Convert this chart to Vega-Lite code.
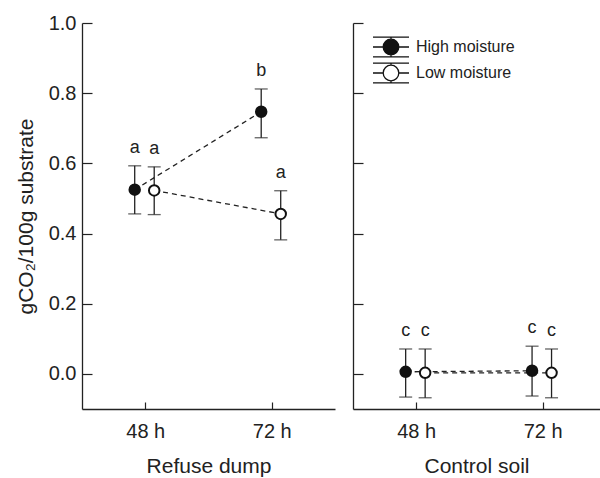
{
  "$schema": "https://vega.github.io/schema/vega-lite/v6.json",
  "padding": {"left": 15, "top": 13, "right": 0, "bottom": 5},
  "config": {
    "view": {"stroke": null},
    "font": "Liberation Sans",
    "axis": {
      "labelFont": "Liberation Sans", "titleFont": "Liberation Sans",
      "labelFontSize": 20, "titleFontSize": 21, "titleFontWeight": "normal",
      "labelColor": "#222", "titleColor": "#222",
      "domainColor": "#222", "tickColor": "#222", "domainWidth": 1.3, "tickWidth": 1.2,
      "grid": false
    }
  },
  "datasets": {
    "co2": [
      {"panel": "Refuse dump", "time": 48, "moisture": "High moisture", "mean": 0.525, "lower": 0.456, "upper": 0.593, "letter": "a"},
      {"panel": "Refuse dump", "time": 48, "moisture": "Low moisture", "mean": 0.523, "lower": 0.454, "upper": 0.590, "letter": "a"},
      {"panel": "Refuse dump", "time": 72, "moisture": "High moisture", "mean": 0.747, "lower": 0.673, "upper": 0.812, "letter": "b"},
      {"panel": "Refuse dump", "time": 72, "moisture": "Low moisture", "mean": 0.456, "lower": 0.382, "upper": 0.522, "letter": "a"},
      {"panel": "Control soil", "time": 48, "moisture": "High moisture", "mean": 0.006, "lower": -0.066, "upper": 0.071, "letter": "c"},
      {"panel": "Control soil", "time": 48, "moisture": "Low moisture", "mean": 0.003, "lower": -0.068, "upper": 0.071, "letter": "c"},
      {"panel": "Control soil", "time": 72, "moisture": "High moisture", "mean": 0.009, "lower": -0.063, "upper": 0.079, "letter": "c"},
      {"panel": "Control soil", "time": 72, "moisture": "Low moisture", "mean": 0.003, "lower": -0.068, "upper": 0.071, "letter": "c"}
    ]
  },
  "spacing": 17,
  "resolve": {"scale": {"x": "independent", "y": "independent", "fill": "independent"}, "legend": {"fill": "independent"}},
  "hconcat": [
    {
      "width": 253, "height": 386,
      "data": {"name": "co2"},
      "transform": [
        {"filter": "datum.panel == 'Refuse dump'"},
        {"calculate": "datum.time + (datum.moisture == 'High moisture' ? -2 : 1.7)", "as": "xpos"}
      ],
      "encoding": {
        "x": {"field": "xpos", "type": "quantitative", "scale": {"domain": [36, 84], "nice": false, "zero": false},
              "axis": {"values": [48, 72], "labelExpr": "datum.value + ' h'", "tickSize": -7, "labelPadding": 19, "title": "Refuse dump", "titlePadding": 14}}
      },
      "layer": [
        {"mark": {"type": "line", "strokeDash": [5, 4], "strokeWidth": 1.3, "color": "#222"},
         "encoding": {"y": {"field": "mean", "type": "quantitative", "scale": {"domain": [-0.1, 1.0], "nice": false, "zero": false},
              "axis": {"values": [0, 0.2, 0.4, 0.6, 0.8, 1.0], "format": ".1f", "tickSize": -10, "labelPadding": 16, "title": "gCO₂/100g substrate", "titlePadding": 12}},
              "detail": {"field": "moisture"}}},
        {"mark": {"type": "rule", "color": "#222", "strokeWidth": 1.3},
         "encoding": {"y": {"field": "lower", "type": "quantitative"}, "y2": {"field": "upper"}}},
        {"mark": {"type": "tick", "orient": "horizontal", "size": 13, "thickness": 1.3, "color": "#222"},
         "encoding": {"y": {"field": "lower", "type": "quantitative"}}},
        {"mark": {"type": "tick", "orient": "horizontal", "size": 13, "thickness": 1.3, "color": "#222"},
         "encoding": {"y": {"field": "upper", "type": "quantitative"}}},
        {"mark": {"type": "point", "shape": "circle", "filled": true, "size": 110, "stroke": "#111", "strokeWidth": 2, "opacity": 1},
         "encoding": {"y": {"field": "mean", "type": "quantitative"},
              "fill": {"field": "moisture", "type": "nominal", "scale": {"domain": ["High moisture", "Low moisture"], "range": ["#111", "#ffffff"]}, "legend": null}}},
        {"mark": {"type": "text", "fontSize": 18, "color": "#222", "baseline": "middle", "dy": -18, "font": "Liberation Sans"},
         "encoding": {"y": {"field": "upper", "type": "quantitative"}, "text": {"field": "letter"}}}
      ]
    },
    {
      "width": 247, "height": 386,
      "data": {"name": "co2"},
      "transform": [
        {"filter": "datum.panel == 'Control soil'"},
        {"calculate": "datum.time + (datum.moisture == 'High moisture' ? -2 : 1.7)", "as": "xpos"}
      ],
      "encoding": {
        "x": {"field": "xpos", "type": "quantitative", "scale": {"domain": [36, 82.9], "nice": false, "zero": false},
              "axis": {"values": [48, 72], "labelExpr": "datum.value + ' h'", "tickSize": -7, "labelPadding": 19, "title": "Control soil", "titlePadding": 14}}
      },
      "layer": [
        {"mark": {"type": "line", "strokeDash": [5, 4], "strokeWidth": 1.3, "color": "#222"},
         "encoding": {"y": {"field": "mean", "type": "quantitative", "scale": {"domain": [-0.1, 1.0], "nice": false, "zero": false},
              "axis": {"values": [0, 0.2, 0.4, 0.6, 0.8, 1.0], "labels": false, "tickSize": -10, "title": null, "minExtent": 0}},
              "detail": {"field": "moisture"}}},
        {"mark": {"type": "rule", "color": "#222", "strokeWidth": 1.3},
         "encoding": {"y": {"field": "lower", "type": "quantitative"}, "y2": {"field": "upper"}}},
        {"mark": {"type": "tick", "orient": "horizontal", "size": 13, "thickness": 1.3, "color": "#222"},
         "encoding": {"y": {"field": "lower", "type": "quantitative"}}},
        {"mark": {"type": "tick", "orient": "horizontal", "size": 13, "thickness": 1.3, "color": "#222"},
         "encoding": {"y": {"field": "upper", "type": "quantitative"}}},
        {"mark": {"type": "point", "shape": "circle", "filled": true, "size": 110, "stroke": "#111", "strokeWidth": 2, "opacity": 1},
         "encoding": {"y": {"field": "mean", "type": "quantitative"},
              "fill": {"field": "moisture", "type": "nominal", "scale": {"domain": ["High moisture", "Low moisture"], "range": ["#111", "#ffffff"]},
                "legend": {"orient": "none", "legendX": 25, "legendY": 11, "title": null, "padding": 0,
                  "symbolType": "M-1.5,-0.83H1.5M-1.5,0.83H1.5M-1.5,0H-0.65M0.65,0H1.5M0,-0.83V-0.65M0,0.65V0.83M-0.65,0A0.65,0.65 0 1,0 0.65,0A0.65,0.65 0 1,0 -0.65,0Z",
                  "symbolSize": 576, "symbolStrokeColor": "#111", "symbolStrokeWidth": 1.3, "symbolOpacity": 1,
                  "labelFont": "Liberation Sans", "labelFontSize": 16, "labelColor": "#222", "labelOffset": 12, "rowPadding": 0}}}},
        {"mark": {"type": "text", "fontSize": 18, "color": "#222", "baseline": "middle", "dy": -18, "font": "Liberation Sans"},
         "encoding": {"y": {"field": "upper", "type": "quantitative"}, "text": {"field": "letter"}}}
      ]
    }
  ]
}
